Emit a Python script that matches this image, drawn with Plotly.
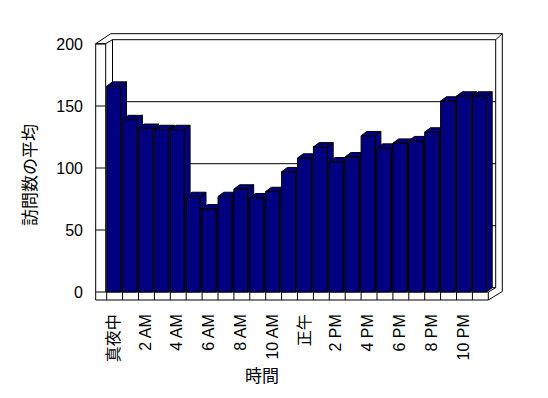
import plotly.graph_objects as go

# ---- data ----
hours = ["真夜中", "1 AM", "2 AM", "3 AM", "4 AM", "5 AM", "6 AM", "7 AM", "8 AM",
         "9 AM", "10 AM", "11 AM", "正午", "1 PM", "2 PM", "3 PM", "4 PM", "5 PM",
         "6 PM", "7 PM", "8 PM", "9 PM", "10 PM", "11 PM"]
visits = [166, 139, 132, 131, 131, 77, 67, 77, 83, 76, 81, 97,
          108, 117, 105, 109, 126, 116, 120, 122, 129, 154, 158, 158]
y_ticks = [0, 50, 100, 150, 200]
x_title = "時間"
y_title = "訪問数の平均"

# ---- geometry / style (window pixel coordinates) ----
PAGE_OFF = 8                     # default body margin of the html page
WIN_W, WIN_H = 548, 398
PL, PR, PT, PB = 94, 505, 32, 302   # plot area in window pixels
W, H = WIN_W - 2 * PAGE_OFF, WIN_H - 2 * PAGE_OFF
ML, MT = PL - PAGE_OFF, PT - PAGE_OFF
MR, MB = W - ML - (PR - PL), H - MT - (PB - PT)

PX_X = 15.9          # pixels per category
PX_Y = 1.24          # pixels per value unit
X0_PX = 113.7        # pixel x of first category centre
Y0_PX = 292.0        # pixel y of value 0
xr = [(PL - X0_PX) / PX_X, (PR - X0_PX) / PX_X]
yr = [(Y0_PX - PB) / PX_Y, (Y0_PX - PT) / PX_Y]

HW = 7.0 / PX_X      # half width of bar front
DX = 5.8 / PX_X      # depth offset x
DY = 4.3 / PX_Y      # depth offset y
BAR = "#000080"
FONT = "Liberation Sans, Noto Sans CJK JP, sans-serif"


def P(px, py):
    return (px - X0_PX) / PX_X, (Y0_PX - py) / PX_Y


fig = go.Figure()

for i, v in enumerate(visits):
    side_x = [i + HW, i + HW + DX, i + HW + DX, i + HW, i + HW]
    side_y = [0, DY, v + DY, v, 0]
    top_x = [i - HW, i + HW, i + HW + DX, i - HW + DX, i - HW]
    top_y = [v, v, v + DY, v + DY, v]
    fr_x = [i - HW, i + HW, i + HW, i - HW, i - HW]
    fr_y = [0, 0, v, v, 0]
    fig.add_trace(go.Scatter(
        x=side_x + [None] + top_x + [None] + fr_x,
        y=side_y + [None] + top_y + [None] + fr_y,
        mode="lines", fill="toself", fillcolor=BAR,
        line=dict(color="black", width=1),
        hoverinfo="skip", showlegend=False))

shapes = []


def line(p1, p2):
    x0, y0 = P(*p1)
    x1, y1 = P(*p2)
    shapes.append(dict(type="line", xref="x", yref="y", x0=x0, y0=y0, x1=x1, y1=y1,
                       line=dict(color="black", width=1), layer="below"))


OL, IL, BL = 95.7, 105.7, X0_PX - 7 + 5.8   # outer left, inner left, back-wall left
BR = 488.3 + 5.8 + 1.6                        # back-wall right
OR = 502.3                                    # outer right
FR = 488.3                                    # floor front right
back_y = lambda v: Y0_PX - 4.3 - PX_Y * v
TOP_O = 33.7

line((OL, 43.7), (OL, 300))
line((OL, 43.7), (IL, 43.7))
line((IL, 43.7), (IL, 292))
line((OL, 43.7), (110.7, TOP_O))
line((110.7, TOP_O), (OR, TOP_O))
line((IL, 43.7), (BL, back_y(200)))
line((BL, back_y(200)), (BR, back_y(200)))
line((BL, back_y(200)), (BL, back_y(0)))
line((BR, back_y(200)), (BR, back_y(0)))
line((BR, back_y(200)), (OR, TOP_O))
line((OR, TOP_O), (OR, 291.5))
line((OL, 300), (FR, 300))
line((IL, 292), (FR, 292))
line((FR, 292), (FR, 300))
line((FR, 300), (OR, 291.5))
line((FR, 292), (BR, back_y(0)))
for t in y_ticks:
    line((OL, Y0_PX - PX_Y * t), (IL, Y0_PX - PX_Y * t))
    if t < 200:
        line((BL, back_y(t)), (BR, back_y(t)))
for k in range(len(hours)):
    xk = X0_PX - 7 + PX_X * k
    line((xk, 292), (xk, 300))


def paper(px, py):
    return (px - PL) / (PR - PL), (PB - py) / (PB - PT)


xt_x, xt_y = paper(262, 376)
yt_x, yt_y = paper(30, 175)

fig.update_layout(
    width=W, height=H,
    margin=dict(l=ML, r=MR, t=MT, b=MB, autoexpand=False),
    paper_bgcolor="white", plot_bgcolor="white",
    font=dict(family=FONT, size=16, color="black"),
    shapes=shapes,
    xaxis=dict(range=xr, showgrid=False, zeroline=False, showline=False,
               tickvals=list(range(0, len(hours), 2)), ticktext=hours[::2],
               tickangle=-90, ticks="", ticklabelstandoff=8,
               tickfont=dict(size=16), fixedrange=True),
    yaxis=dict(range=yr, showgrid=False, zeroline=False, showline=False,
               tickvals=y_ticks, ticks="", ticklabelstandoff=10,
               tickfont=dict(size=16), fixedrange=True),
    annotations=[
        dict(text=x_title, xref="paper", yref="paper", x=xt_x, y=xt_y,
             showarrow=False, font=dict(size=17), xanchor="center", yanchor="middle"),
        dict(text=y_title, xref="paper", yref="paper", textangle=-90, x=yt_x, y=yt_y,
             showarrow=False, font=dict(size=17), xanchor="center", yanchor="middle"),
    ],
)

fig.write_html("out.html", config={"displayModeBar": False})
